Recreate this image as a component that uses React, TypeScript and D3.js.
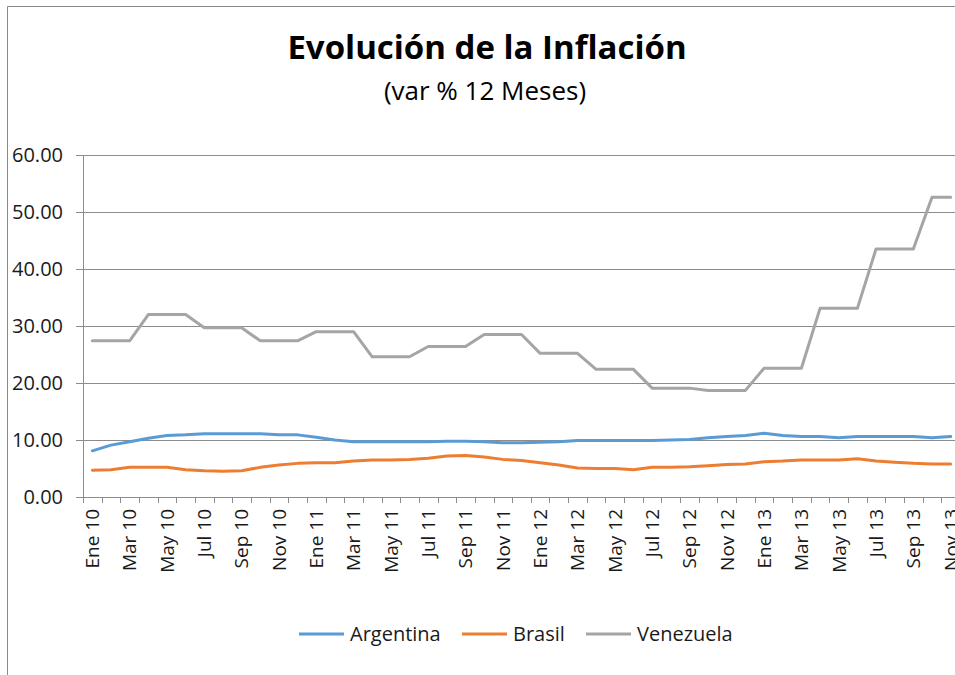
import React, { useRef, useEffect } from 'react';
import * as d3 from 'd3';

const months = [
  'Ene 10', 'Feb 10', 'Mar 10', 'Abr 10', 'May 10', 'Jun 10', 'Jul 10', 'Ago 10', 'Sep 10', 'Oct 10', 'Nov 10', 'Dic 10',
  'Ene 11', 'Feb 11', 'Mar 11', 'Abr 11', 'May 11', 'Jun 11', 'Jul 11', 'Ago 11', 'Sep 11', 'Oct 11', 'Nov 11', 'Dic 11',
  'Ene 12', 'Feb 12', 'Mar 12', 'Abr 12', 'May 12', 'Jun 12', 'Jul 12', 'Ago 12', 'Sep 12', 'Oct 12', 'Nov 12', 'Dic 12',
  'Ene 13', 'Feb 13', 'Mar 13', 'Abr 13', 'May 13', 'Jun 13', 'Jul 13', 'Ago 13', 'Sep 13', 'Oct 13', 'Nov 13',
];

const argentina = [
  8.1, 9.1, 9.7, 10.3, 10.8, 10.9, 11.1, 11.1, 11.1, 11.1, 10.9, 10.9,
  10.5, 10.0, 9.7, 9.7, 9.7, 9.7, 9.7, 9.8, 9.8, 9.7, 9.5, 9.5,
  9.6, 9.7, 9.9, 9.9, 9.9, 9.9, 9.9, 10.0, 10.1, 10.4, 10.6, 10.8,
  11.2, 10.8, 10.6, 10.6, 10.4, 10.6, 10.6, 10.6, 10.6, 10.4, 10.6,
];

const brasil = [
  4.7, 4.8, 5.2, 5.2, 5.2, 4.8, 4.6, 4.5, 4.6, 5.2, 5.6, 5.9,
  6.0, 6.0, 6.3, 6.5, 6.5, 6.6, 6.8, 7.2, 7.3, 7.0, 6.6, 6.4,
  6.0, 5.6, 5.1, 5.0, 5.0, 4.8, 5.2, 5.2, 5.3, 5.5, 5.7, 5.8,
  6.2, 6.3, 6.5, 6.5, 6.5, 6.7, 6.3, 6.1, 5.9, 5.8, 5.8,
];

const venezuela = [
  27.4, 27.4, 27.4, 32.0, 32.0, 32.0, 29.7, 29.7, 29.7, 27.4, 27.4, 27.4,
  29.0, 29.0, 29.0, 24.6, 24.6, 24.6, 26.4, 26.4, 26.4, 28.5, 28.5, 28.5,
  25.2, 25.2, 25.2, 22.4, 22.4, 22.4, 19.1, 19.1, 19.1, 18.7, 18.7, 18.7,
  22.6, 22.6, 22.6, 33.1, 33.1, 33.1, 43.5, 43.5, 43.5, 52.6, 52.6,
];

const seriesNames = ['Argentina', 'Brasil', 'Venezuela'];
const seriesColors = ['#5B9BD5', '#ED7D31', '#A5A5A5'];
const yTicks = [0, 10, 20, 30, 40, 50, 60];

const FONT = "'Open Sans', 'Noto Sans', sans-serif";

const App = () => {
  const chartRef = useRef<SVGSVGElement | null>(null);

  useEffect(() => {
    const svg = d3.select(chartRef.current);
    svg.selectAll('*').remove();

    const left = 83;
    const right = 960;
    const top = 155;
    const bottom = 497;

    const x = d3.scaleBand().domain(months).range([left, right]);
    const y = d3.scaleLinear().domain([0, 60]).range([bottom, top]);

    // chart border (only left/top visible in the crop)
    svg.append('path')
      .attr('d', 'M7.5,675 L7.5,6.5 L955,6.5')
      .attr('fill', 'none')
      .attr('stroke', '#8a8a8a')
      .attr('stroke-width', 1);

    svg.append('text')
      .attr('x', 487)
      .attr('y', 59)
      .attr('text-anchor', 'middle')
      .style('font-family', FONT)
      .style('font-weight', 700)
      .style('font-size', '33px')
      .style('fill', '#000')
      .text('Evolución de la Inflación');

    svg.append('text')
      .attr('x', 485)
      .attr('y', 100)
      .attr('text-anchor', 'middle')
      .style('font-family', FONT)
      .style('font-size', '26px')
      .style('fill', '#000')
      .text('(var % 12 Meses)');

    // gridlines + y labels
    svg.selectAll('.grid')
      .data(yTicks)
      .enter()
      .append('line')
      .attr('x1', left - 7)
      .attr('x2', 955)
      .attr('y1', d => Math.round(y(d)) + 0.5)
      .attr('y2', d => Math.round(y(d)) + 0.5)
      .attr('stroke', '#8c8c8c')
      .attr('stroke-width', 1);

    svg.selectAll('.ylab')
      .data(yTicks)
      .enter()
      .append('text')
      .attr('x', 63)
      .attr('y', d => y(d))
      .attr('dy', '0.35em')
      .attr('text-anchor', 'end')
      .style('font-family', FONT)
      .style('font-size', '20px')
      .style('fill', '#1a1a1a')
      .text(d => d.toFixed(2));

    // y axis line
    svg.append('line')
      .attr('x1', left + 0.5)
      .attr('x2', left + 0.5)
      .attr('y1', top)
      .attr('y2', bottom)
      .attr('stroke', '#8c8c8c');

    // x ticks on category boundaries
    const bounds = d3.range(months.length + 1).map(i => left + i * x.bandwidth());
    svg.selectAll('.xtick')
      .data(bounds)
      .enter()
      .append('line')
      .attr('x1', d => Math.round(d) + 0.5)
      .attr('x2', d => Math.round(d) + 0.5)
      .attr('y1', bottom)
      .attr('y2', bottom + 6)
      .attr('stroke', '#8c8c8c');

    svg.selectAll('.xlab')
      .data(months.filter((m, i) => i % 2 === 0))
      .enter()
      .append('text')
      .attr('transform', d => `translate(${(x(d) as number) + x.bandwidth() / 2},${bottom + 12}) rotate(-90)`)
      .attr('dy', '0.36em')
      .attr('text-anchor', 'end')
      .style('font-family', FONT)
      .style('font-size', '19px')
      .style('fill', '#1a1a1a')
      .text(d => d);

    const line = d3.line<number>()
      .x((d, i) => (x(months[i]) as number) + x.bandwidth() / 2)
      .y(d => y(d));

    [argentina, brasil, venezuela].forEach((values, k) => {
      svg.append('path')
        .datum(values)
        .attr('d', line)
        .attr('fill', 'none')
        .attr('stroke', seriesColors[k])
        .attr('stroke-width', 3)
        .attr('stroke-linejoin', 'round')
        .attr('stroke-linecap', 'round');
    });

    // legend
    const legendX = [299, 462, 586];
    seriesNames.forEach((name, k) => {
      svg.append('line')
        .attr('x1', legendX[k])
        .attr('x2', legendX[k] + 45)
        .attr('y1', 634)
        .attr('y2', 634)
        .attr('stroke', seriesColors[k])
        .attr('stroke-width', 3);
      svg.append('text')
        .attr('x', legendX[k] + 51)
        .attr('y', 634)
        .attr('dy', '0.35em')
        .style('font-family', FONT)
        .style('font-size', '20px')
        .style('fill', '#1a1a1a')
        .text(name);
    });
  }, []);

  return (
    <svg
      ref={chartRef}
      width={955}
      height={675}
      style={{ position: 'absolute', left: 0, top: 0, display: 'block', background: '#fff' }}
    />
  );
};

export default App;
